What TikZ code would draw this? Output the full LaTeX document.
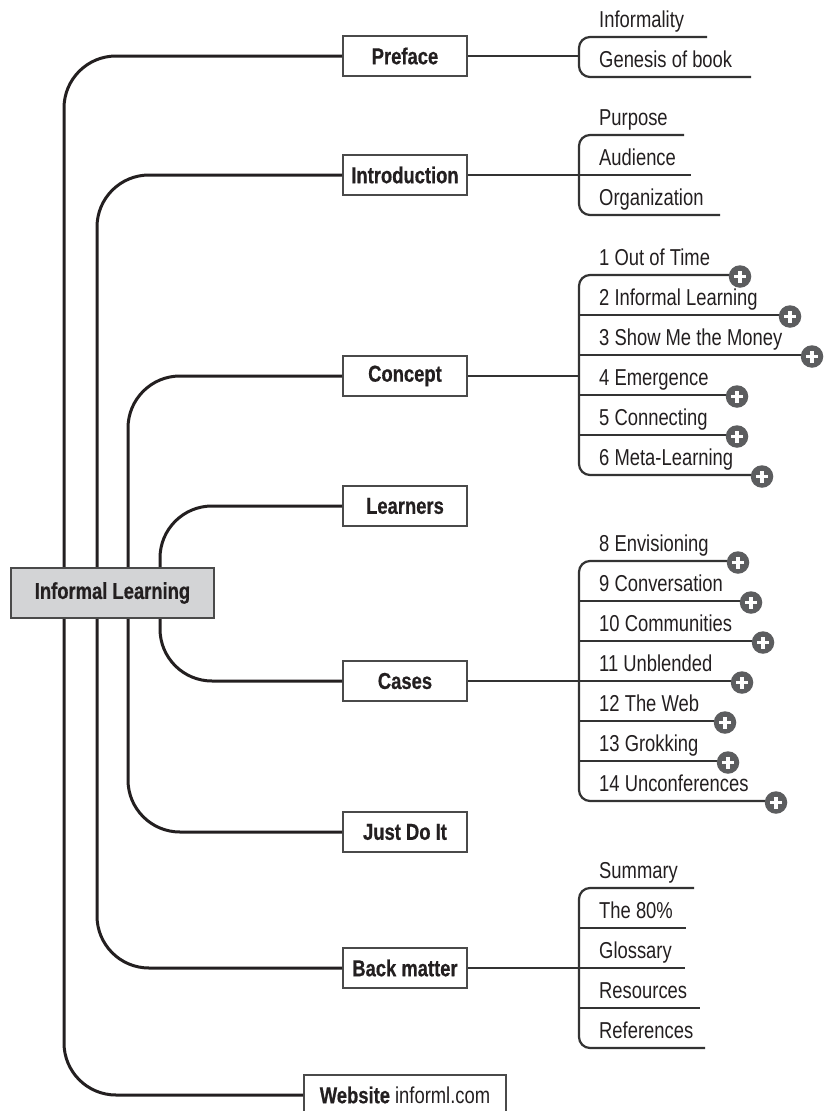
\documentclass[tikz,border=0pt]{standalone}
\usepackage{fontspec}
\setmainfont[FakeStretch=0.80, BoldFeatures={FakeBold=0.6}]{Liberation Sans}
\definecolor{linec}{HTML}{231F20}
\definecolor{subc}{HTML}{333333}
\definecolor{boxc}{HTML}{4A4A4A}
\definecolor{txt}{HTML}{231F20}
\definecolor{rootfill}{HTML}{D3D4D6}
\definecolor{plusc}{HTML}{5C5D5F}
\newcommand\mmitems[2]{%
  \foreach \y/\t/\e [count=\i] in {#2} {%
    \node[item] (#1t\i) at (599,\y-9.5) {\t};
    \coordinate (#1e\i) at (\e,\y);
    \coordinate (#1s\i) at (579,\y);
  }}
\begin{document}
\begin{tikzpicture}[x=1pt,y=-1pt,
  conn/.style={line width=3pt, draw=linec, rounded corners=52pt},
  sub/.style={line width=2.2pt, draw=subc},
  bracket/.style={sub, rounded corners=11pt},
  mainbox/.style={draw=boxc, line width=2pt, fill=white, minimum width=124pt,
    minimum height=40pt, inner sep=0pt, font=\fontsize{23}{27}\selectfont\bfseries, text=txt},
  rootbox/.style={mainbox, fill=rootfill, minimum width=203pt, minimum height=50pt},
  item/.style={anchor=base west, inner sep=0pt, font=\fontsize{23}{27}\selectfont, text=txt},
  plus/.style={circle, fill=plusc, minimum size=22.5pt, inner sep=0pt,
    path picture={
      \draw[white, line width=3.8pt]
        ([xshift=-6pt]path picture bounding box.center) -- ([xshift=6pt]path picture bounding box.center)
        ([yshift=-6pt]path picture bounding box.center) -- ([yshift=6pt]path picture bounding box.center);
    }}]
\useasboundingbox (0,0) rectangle (826,1111);
\fill[white] (0,0) rectangle (826,1111);

% main nodes
\node[mainbox] (pref) at (405,56) {Preface};
\node[mainbox] (intro) at (405,175) {Introduction};
\node[mainbox] (concept) at (405,376) {Concept};
\node[mainbox] (learn) at (405,506) {Learners};
\node[mainbox] (cases) at (405,681) {Cases};
\node[mainbox] (just) at (405,832) {Just Do It};
\node[mainbox] (back) at (405,968) {Back matter};
\node[mainbox, anchor=north west, minimum width=202pt] (web) at (303,1074)
  {Website \mdseries informl.com};

\coordinate (c1) at (64,0);
\coordinate (c2) at (97,0);
\coordinate (c3) at (128,0);
\coordinate (c4) at (160,0);

% root (placed for connector anchors, redrawn on top)
\path (112.5,593) node[rootbox, draw=none, fill=none, text=white] (root) {\phantom{Informal Learning}};

\draw[conn] (root.north -| c1) |- (pref.west);
\draw[conn] (root.south -| c1) |- (web.west);
\draw[conn] (root.north -| c2) |- (intro.west);
\draw[conn] (root.south -| c2) |- (back.west);
\draw[conn] (root.north -| c3) |- (concept.west);
\draw[conn] (root.south -| c3) |- (just.west);
\draw[conn] (root.north -| c4) |- (learn.west);
\draw[conn] (root.south -| c4) |- (cases.west);
\draw[conn] (root.north -| c1) -- (root.south -| c1);
\draw[conn] (root.north -| c2) -- (root.south -| c2);
\draw[conn] (root.north -| c3) -- (root.south -| c3);

\node[rootbox] (rootbox) at (root.center) {Informal Learning};

% Preface group
\mmitems{pf}{37/Informality/707, 77/Genesis of book/751}
\draw[sub] (pref.east) -- (pref.east -| pfs1);
\draw[bracket] (pfe1) -- (pfs1) -- (pfs2) -- (pfe2);

% Introduction group
\mmitems{in}{135/Purpose/684, 175/Audience/691, 215/Organization/720}
\draw[sub] (intro.east) -- (intro.east -| ins1);
\draw[bracket] (ine1) -- (ins1) -- (ins3) -- (ine3);
\draw[sub] (ins2) -- (ine2);

% Concept group
\mmitems{co}{275/1 Out of Time/740, 315/2 Informal Learning/790, 355/3 Show Me the Money/812,
  395/4 Emergence/737, 435/5 Connecting/737, 475/6 Meta-Learning/762}
\draw[sub] (concept.east) -- (concept.east -| cos1);
\draw[bracket] (coe1) -- (cos1) -- (cos6) -- (coe6);
\foreach \k in {2,...,5} \draw[sub] (cos\k) -- (coe\k);
\foreach \k in {1,...,6} \node[plus] (cop\k) at ([yshift=-1.5pt]coe\k) {};

% Cases group
\mmitems{ca}{561/8 Envisioning/738, 601/9 Conversation/751, 641/10 Communities/763,
  681/11 Unblended/742, 721/12 The Web/725, 761/13 Grokking/728, 801/14 Unconferences/776}
\draw[sub] (cases.east) -- (cases.east -| cas1);
\draw[bracket] (cae1) -- (cas1) -- (cas7) -- (cae7);
\foreach \k in {2,...,6} \draw[sub] (cas\k) -- (cae\k);
\foreach \k in {1,...,7} \node[plus] (cap\k) at ([yshift=-1.5pt]cae\k) {};

% Back matter group
\mmitems{bm}{888/Summary/694, 928/The 80\%/686, 968/Glossary/685, 1008/Resources/700, 1048/References/705}
\draw[sub] (back.east) -- (back.east -| bms1);
\draw[bracket] (bme1) -- (bms1) -- (bms5) -- (bme5);
\foreach \k in {2,...,4} \draw[sub] (bms\k) -- (bme\k);
\end{tikzpicture}
\end{document}
